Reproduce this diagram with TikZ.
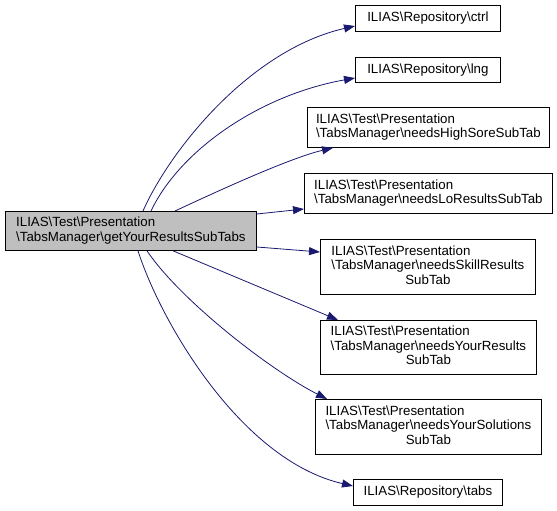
\documentclass[tikz,border=0pt]{standalone}
\usepackage{fontspec}
\setmainfont{Liberation Sans}
\usetikzlibrary{arrows.meta}
\definecolor{edgecol}{HTML}{191970}
\definecolor{mainfill}{HTML}{BFBFBF}
\tikzset{
  box/.style={draw=black, line width=0.8pt, fill=white, inner sep=0pt, font=\fontsize{13.3}{14.5}\selectfont, anchor=north west},
  mainbox/.style={box, fill=mainfill},
  edge/.style={draw=edgecol, line width=0.8pt, -{Triangle[length=11pt,width=8pt,fill=edgecol]}},
}
\newcommand{\twol}[2]{\begin{tabular}{@{}l@{}}#1\\#2\end{tabular}}
\newcommand{\threel}[3]{\begin{tabular}{@{}l@{}}#1\\#2\\\multicolumn{1}{@{}c@{}}{#3}\end{tabular}}
\renewcommand{\arraystretch}{1}
\begin{document}
\begin{tikzpicture}[x=1pt,y=-1pt]
\useasboundingbox (0,0) rectangle (557,511);
\node[mainbox, minimum width=251pt, minimum height=39pt] (main) at (5,211) {\twol{ILIAS\textbackslash Test\textbackslash Presentation}{\textbackslash TabsManager\textbackslash getYourResultsSubTabs}};
\node[box, minimum width=145pt, minimum height=26pt] (ctrl) at (355,5) {ILIAS\textbackslash Repository\textbackslash ctrl};
\node[box, minimum width=145pt, minimum height=25pt] (lng) at (355,57) {ILIAS\textbackslash Repository\textbackslash lng};
\node[box, minimum width=242pt, minimum height=40pt] (high) at (307,107) {\twol{ILIAS\textbackslash Test\textbackslash Presentation}{\textbackslash TabsManager\textbackslash needsHighSoreSubTab}};
\node[box, minimum width=248pt, minimum height=40pt] (lo) at (304,173) {\twol{ILIAS\textbackslash Test\textbackslash Presentation}{\textbackslash TabsManager\textbackslash needsLoResultsSubTab}};
\node[box, minimum width=215pt, minimum height=55pt] (skill) at (320,239) {\threel{ILIAS\textbackslash Test\textbackslash Presentation}{\textbackslash TabsManager\textbackslash needsSkillResults}{SubTab}};
\node[box, minimum width=216pt, minimum height=54pt] (your) at (320,320) {\threel{ILIAS\textbackslash Test\textbackslash Presentation}{\textbackslash TabsManager\textbackslash needsYourResults}{SubTab}};
\node[box, minimum width=226pt, minimum height=55pt] (sol) at (315,399) {\threel{ILIAS\textbackslash Test\textbackslash Presentation}{\textbackslash TabsManager\textbackslash needsYourSolutions}{SubTab}};
\node[box, minimum width=149pt, minimum height=26pt] (tabs) at (353,479) {ILIAS\textbackslash Repository\textbackslash tabs};

\draw[edge] ([xshift=138pt]main.north west) .. controls (170,150) and (250,50) .. ([yshift=-21pt]ctrl.north west);
\draw[edge] ([xshift=146pt]main.north west) .. controls (180,150) and (260,95) .. ([yshift=-21pt]lng.north west);
\draw[edge] ([xshift=170pt]main.north west) .. controls (220,190) and (290,158) .. ([xshift=26pt]high.south west);
\draw[edge] ([yshift=-3pt]main.north east) -- ([yshift=-36pt]lo.north west);
\draw[edge] ([yshift=-36pt]main.north east) -- ([yshift=-13pt]skill.north west);
\draw[edge] ([xshift=168pt]main.south west) -- ([xshift=18pt]your.north west);
\draw[edge] ([xshift=142pt]main.south west) .. controls (180,300) and (270,370) .. ([xshift=12pt]sol.north west);
\draw[edge] ([xshift=133pt]main.south west) .. controls (160,320) and (240,460) .. ([yshift=-7pt]tabs.north west);
\end{tikzpicture}
\end{document}
